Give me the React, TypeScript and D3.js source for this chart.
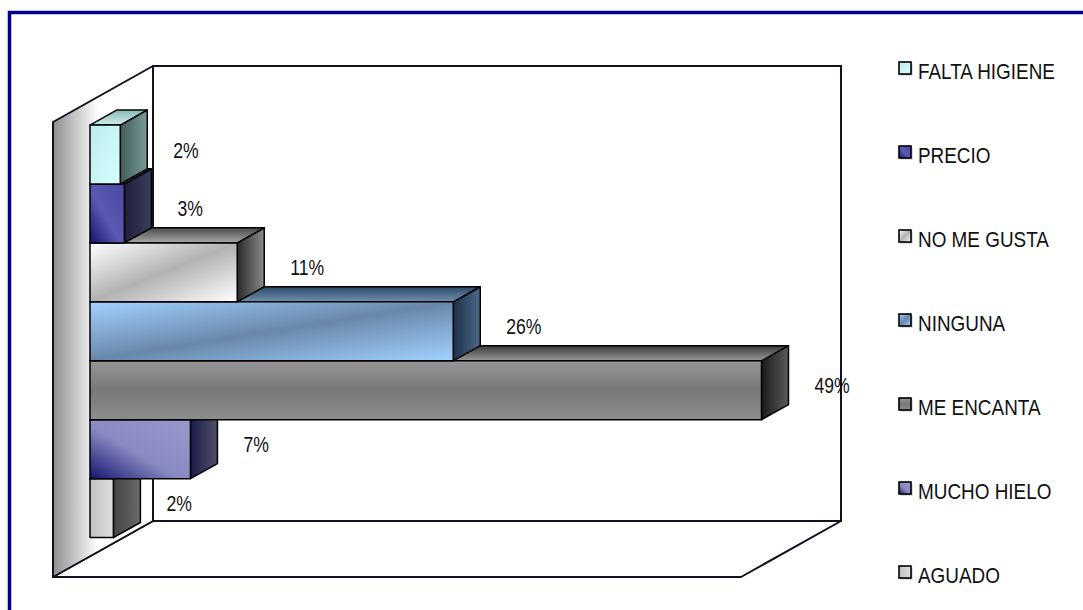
import React from "react";
import * as d3 from "d3";

// ---- data (top to bottom as shown) ----
const categories = ["FALTA HIGIENE", "PRECIO", "NO ME GUSTA", "NINGUNA", "ME ENCANTA", "MUCHO HIELO", "AGUADO"];
const values = [2.2, 2.5, 10.7, 26.4, 48.8, 7.3, 1.7]; // percent
const axisDomain = [0, 50];

// ---- styles ----
type Grad = { dir: [number, number, number, number]; stops: [number, string][] };
const frontFill: Grad[] = [
  { dir: [0, 0, 1, 1], stops: [[0, "#bcecec"], [1, "#d6ffff"]] },
  { dir: [0, 1, 1, 0], stops: [[0, "#141470"], [0.45, "#5a5ab4"], [1, "#4848a0"]] },
  { dir: [0, 0, 1, 1], stops: [[0, "#ffffff"], [0.5, "#b2b2b2"], [1, "#ffffff"]] },
  { dir: [0, 0, 1, 1], stops: [[0, "#a2d2ff"], [0.5, "#6888aa"], [1, "#a2d2ff"]] },
  { dir: [0, 0, 0, 1], stops: [[0, "#969696"], [0.5, "#787878"], [1, "#8e8e8e"]] },
  { dir: [0, 1, 1, 0], stops: [[0, "#141470"], [0.45, "#8a8ac2"], [1, "#9898cc"]] },
  { dir: [0, 0, 1, 0], stops: [[0, "#c0c0c0"], [1, "#dedede"]] },
];
const sideFill: Grad[] = [
  { dir: [0, 0, 1, 0], stops: [[0, "#3e5c5a"], [1, "#7a9a98"]] },
  { dir: [0, 0, 1, 0], stops: [[0, "#20203c"], [1, "#3c3c5c"]] },
  { dir: [0, 0, 1, 0], stops: [[0, "#2a2a2a"], [1, "#8a8a8a"]] },
  { dir: [0, 0, 1, 0], stops: [[0, "#1e3048"], [1, "#4a6a8a"]] },
  { dir: [0, 0, 1, 0], stops: [[0, "#1a1a1a"], [1, "#5a5a5a"]] },
  { dir: [0, 0, 1, 0], stops: [[0, "#1c1c48"], [1, "#50506a"]] },
  { dir: [0, 0, 1, 0], stops: [[0, "#444444"], [1, "#6a6a6a"]] },
];
const topFill: Grad[] = [
  { dir: [0, 0, 0, 1], stops: [[0, "#8ab8b6"], [1, "#cfeeee"]] },
  { dir: [0, 0, 0, 1], stops: [[0, "#2a2a5a"], [1, "#5a5a90"]] },
  { dir: [0, 0, 0, 1], stops: [[0, "#4a4a4a"], [1, "#a8a8a8"]] },
  { dir: [0, 0, 0, 1], stops: [[0, "#2c4866"], [1, "#7090b0"]] },
  { dir: [0, 0, 0, 1], stops: [[0, "#3a3a3a"], [1, "#9a9a9a"]] },
  { dir: [0, 0, 0, 1], stops: [[0, "#3a3a70"], [1, "#7070a8"]] },
  { dir: [0, 0, 0, 1], stops: [[0, "#777777"], [1, "#bbbbbb"]] },
];

const W = 1083, H = 610;
const back = { left: 153, right: 841, top: 66, bottom: 521 };
const depth = { dx: -100, dy: 56 };
const zFront = 0.37, zBack = 0.64;
const FONT = "'Liberation Sans', Arial, sans-serif";

const proj = (x: number, y: number, z: number): [number, number] => [
  x + (1 - z) * depth.dx,
  y + (1 - z) * depth.dy,
];
const pts = (arr: [number, number][]) => arr.map((p) => p.join(",")).join(" ");

function GradDef({ id, g }: { id: string; g: Grad }) {
  return (
    <linearGradient id={id} x1={g.dir[0]} y1={g.dir[1]} x2={g.dir[2]} y2={g.dir[3]}>
      {g.stops.map(([o, c], i) => (
        <stop key={i} offset={o} stopColor={c} />
      ))}
    </linearGradient>
  );
}

export default function App() {
  const x = d3.scaleLinear().domain(axisDomain).range([back.left, back.right]);
  const y = d3
    .scaleBand<string>()
    .domain(categories)
    .range([back.top, back.bottom])
    .paddingInner(0)
    .paddingOuter(0.36)
    .align(0.56);
  const bw = y.bandwidth();

  const order = d3.range(categories.length).reverse(); // draw bottom bars first

  const leftWall: [number, number][] = [
    proj(back.left, back.top, 0),
    [back.left, back.top],
    [back.left, back.bottom],
    proj(back.left, back.bottom, 0),
  ];
  const floor: [number, number][] = [
    proj(back.left, back.bottom, 0),
    [back.left, back.bottom],
    [back.right, back.bottom],
    proj(back.right, back.bottom, 0),
  ];

  const legendX = 899;
  const legendY0 = 71;
  const legendStep = 84;

  return (
    <svg
      width={W}
      height={H}
      style={{ position: "fixed", left: 0, top: 0, display: "block", background: "#fff" }}
    >
      <defs>
        {categories.map((_, i) => (
          <React.Fragment key={i}>
            <GradDef id={`front-${i}`} g={frontFill[i]} />
            <GradDef id={`side-${i}`} g={sideFill[i]} />
            <GradDef id={`top-${i}`} g={topFill[i]} />
          </React.Fragment>
        ))}
        <linearGradient id="wallGrad" x1={0} y1={0} x2={1} y2={0}>
          <stop offset={0} stopColor="#8e8e8e" />
          <stop offset={0.45} stopColor="#ffffff" />
          <stop offset={1} stopColor="#ffffff" />
        </linearGradient>
      </defs>

      <rect x={0} y={0} width={W} height={H} fill="#fff" />
      <rect x={9.5} y={12.5} width={W + 50} height={H + 50} fill="none" stroke="#000088" strokeWidth={3.5} />

      {/* walls */}
      <rect
        x={back.left}
        y={back.top}
        width={back.right - back.left}
        height={back.bottom - back.top}
        fill="#fff"
        stroke="#111122"
        strokeWidth={2}
      />
      <polygon points={pts(floor)} fill="#fff" stroke="#111122" strokeWidth={2} strokeLinejoin="round" />
      <polygon points={pts(leftWall)} fill="url(#wallGrad)" stroke="#111122" strokeWidth={2} strokeLinejoin="round" />

      {/* bars */}
      {order.map((i) => {
        const cat = categories[i];
        const x0 = x(0);
        const x1 = x(values[i]);
        const y0 = y(cat) as number;
        const y1 = y0 + bw;
        const front: [number, number][] = [proj(x0, y0, zFront), proj(x1, y0, zFront), proj(x1, y1, zFront), proj(x0, y1, zFront)];
        const top: [number, number][] = [proj(x0, y0, zBack), proj(x1, y0, zBack), proj(x1, y0, zFront), proj(x0, y0, zFront)];
        const side: [number, number][] = [proj(x1, y0, zFront), proj(x1, y0, zBack), proj(x1, y1, zBack), proj(x1, y1, zFront)];
        return (
          <g key={cat} stroke="#000" strokeWidth={1.5} strokeLinejoin="round">
            <polygon points={pts(side)} fill={`url(#side-${i})`} />
            <polygon points={pts(top)} fill={`url(#top-${i})`} />
            <polygon points={pts(front)} fill={`url(#front-${i})`} />
          </g>
        );
      })}

      {/* value labels */}
      {categories.map((cat, i) => {
        const endBack = proj(x(values[i]), 0, zBack)[0];
        const cy = (y(cat) as number) + bw / 2 + (1 - zFront) * depth.dy;
        return (
          <text
            key={cat}
            transform={`translate(${endBack + 26},${cy + 3}) scale(0.8,1)`}
            fontFamily={FONT}
            fontSize={22}
            fill="#111"
          >
            {Math.round(values[i])}%
          </text>
        );
      })}

      {/* legend */}
      {categories.map((cat, i) => {
        const cy = legendY0 + i * legendStep;
        return (
          <g key={cat}>
            <rect x={legendX + 1.5} y={cy - 7.5} width={12} height={12} fill="#777" opacity={0.5} />
            <rect x={legendX} y={cy - 9} width={12} height={12} fill={`url(#front-${i})`} stroke="#000" strokeWidth={1.6} />
            <text
              transform={`translate(918,${cy + 8}) scale(0.86,1)`}
              fontFamily={FONT}
              fontSize={22}
              fill="#111"
            >
              {cat}
            </text>
          </g>
        );
      })}
    </svg>
  );
}
